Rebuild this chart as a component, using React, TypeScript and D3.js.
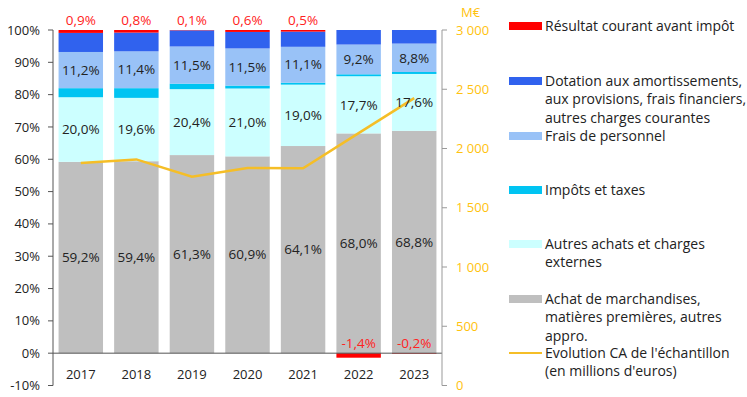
import * as d3 from "d3";

const years = ["2017", "2018", "2019", "2020", "2021", "2022", "2023"];
const achat = [59.2, 59.4, 61.3, 60.9, 64.1, 68.0, 68.8];
const autresAchats = [20.0, 19.6, 20.4, 21.0, 19.0, 17.7, 17.6];
const impots = [2.8, 3.0, 1.7, 0.9, 0.6, 0.6, 0.6];
const frais = [11.2, 11.4, 11.5, 11.5, 11.1, 9.2, 8.8];
const dotation = [5.9, 5.8, 5.0, 5.1, 4.7, 4.5, 4.2];
const resultat = [0.9, 0.8, 0.1, 0.6, 0.5, -1.4, -0.2];
const chiffreAffaires = [1878, 1908, 1762, 1835, 1833, 2130, 2425];

const leftTicks = [-10, 0, 10, 20, 30, 40, 50, 60, 70, 80, 90, 100];
const rightTicks = [0, 500, 1000, 1500, 2000, 2500, 3000];

const series = [
  { key: "achat", values: achat, color: "#bfbfbf", label: true },
  { key: "autres", values: autresAchats, color: "#ccffff", label: true },
  { key: "impots", values: impots, color: "#00c4f2", label: false },
  { key: "frais", values: frais, color: "#99c2f7", label: true },
  { key: "dotation", values: dotation, color: "#3062ee", label: false },
  { key: "resultat", values: resultat, color: "#ff0000", label: false },
];

const legend = [
  { color: "#ff0000", lines: ["Résultat courant avant impôt"], y: 26 },
  {
    color: "#3062ee",
    lines: ["Dotation aux amortissements,", "aux provisions, frais financiers,", "autres charges courantes"],
    y: 81,
  },
  { color: "#99c2f7", lines: ["Frais de personnel"], y: 136 },
  { color: "#00c4f2", lines: ["Impôts et taxes"], y: 190 },
  { color: "#ccffff", lines: ["Autres achats et charges", "externes"], y: 244 },
  { color: "#bfbfbf", lines: ["Achat de marchandises,", "matières premières, autres", "appro."], y: 299 },
  { color: "#f5be27", lines: ["Evolution CA de l'échantillon", "(en millions d'euros)"], y: 353, line: true },
];

const fmt = (v: number) => v.toFixed(1).replace(".", ",") + "%";
const font = "'Open Sans', sans-serif";

export default function App() {
  const x = d3.scaleBand().domain(years).range([53, 442]).paddingInner(0.2).paddingOuter(0.1);
  const y = d3.scaleLinear().domain([-10, 100]).range([385.5, 30]);
  const y2 = d3.scaleLinear().domain([0, 3000]).range([385.5, 30]);

  const stacks = years.map((yr, i) => {
    let acc = 0;
    const segs: any[] = [];
    series.forEach((s) => {
      const v = s.values[i];
      if (v >= 0) {
        segs.push({ s, v, y0: acc, y1: acc + v });
        acc += v;
      } else {
        segs.push({ s, v, y0: v, y1: 0 });
      }
    });
    return { yr, segs };
  });

  const line = d3
    .line<number>()
    .x((d, i) => (x(years[i]) as number) + x.bandwidth() / 2)
    .y((d) => y2(d));

  return (
    <svg width={747} height={397} style={{ position: "absolute", left: 0, top: 0 }} fontFamily={font}>
      <rect width={747} height={397} fill="#fff" />
      {stacks.map(({ yr, segs }) => (
        <g key={yr}>
          {segs.map((g: any) => (
            <rect
              key={g.s.key}
              x={x(yr)}
              width={x.bandwidth()}
              y={y(g.y1)}
              height={Math.max(0, y(g.y0) - y(g.y1))}
              fill={g.s.color}
            />
          ))}
        </g>
      ))}
      {/* zero line */}
      <line x1={53} x2={442} y1={y(0)} y2={y(0)} stroke="#555" strokeWidth={1} />
      {/* left axis */}
      <line x1={53} x2={53} y1={y(100)} y2={y(-10)} stroke="#555" />
      {leftTicks.map((t) => (
        <g key={t}>
          <line x1={48} x2={53} y1={y(t)} y2={y(t)} stroke="#555" />
          <text x={40} y={y(t)} dy="0.35em" textAnchor="end" fontSize={13} fill="#222">
            {t}%
          </text>
        </g>
      ))}
      {/* right axis */}
      <line x1={442} x2={442} y1={y2(3000)} y2={y2(0)} stroke="#999" />
      {rightTicks.map((t) => (
        <g key={t}>
          <line x1={442} x2={447} y1={y2(t)} y2={y2(t)} stroke="#999" />
          <text x={456} y={y2(t)} dy="0.35em" fontSize={13} fill="#ffc20e">
            {d3.format(",")(t).replace(",", " ")}
          </text>
        </g>
      ))}
      <text x={461} y={12} dy="0.35em" fontSize={13} fill="#ffc20e">
        M€
      </text>
      {/* year labels */}
      {years.map((yr) => (
        <text
          key={yr}
          x={(x(yr) as number) + x.bandwidth() / 2}
          y={374}
          dy="0.35em"
          textAnchor="middle"
          fontSize={13}
          fill="#222"
        >
          {yr}
        </text>
      ))}
      {/* CA line */}
      <path d={line(chiffreAffaires) as string} fill="none" stroke="#f5be27" strokeWidth={2.5} />
      {/* data labels */}
      {stacks.map(({ yr, segs }, i) => {
        const cx = (x(yr) as number) + x.bandwidth() / 2;
        return (
          <g key={yr}>
            {segs
              .filter((g: any) => g.s.label)
              .map((g: any) => (
                <text
                  key={g.s.key}
                  x={cx}
                  y={y((g.y0 + g.y1) / 2)}
                  dy="0.35em"
                  textAnchor="middle"
                  fontSize={13.5}
                  fill="#222"
                >
                  {fmt(g.v)}
                </text>
              ))}
            <text
              x={cx}
              y={resultat[i] >= 0 ? 20 : y(0) - 10}
              dy="0.35em"
              textAnchor="middle"
              fontSize={13.5}
              fill="#f22"
            >
              {fmt(resultat[i])}
            </text>
          </g>
        );
      })}
      {/* legend */}
      {legend.map((l) => (
        <g key={l.lines[0]}>
          {l.line ? (
            <line x1={509} x2={542} y1={l.y} y2={l.y} stroke={l.color} strokeWidth={2} />
          ) : (
            <rect x={509} y={l.y - 4} width={33} height={8} fill={l.color} />
          )}
          <text x={545} y={l.y} fontSize={14} fill="#222">
            {l.lines.map((t, j) => (
              <tspan key={j} x={545} y={l.y + j * 18.3} dy="0.35em">
                {t}
              </tspan>
            ))}
          </text>
        </g>
      ))}
    </svg>
  );
}
